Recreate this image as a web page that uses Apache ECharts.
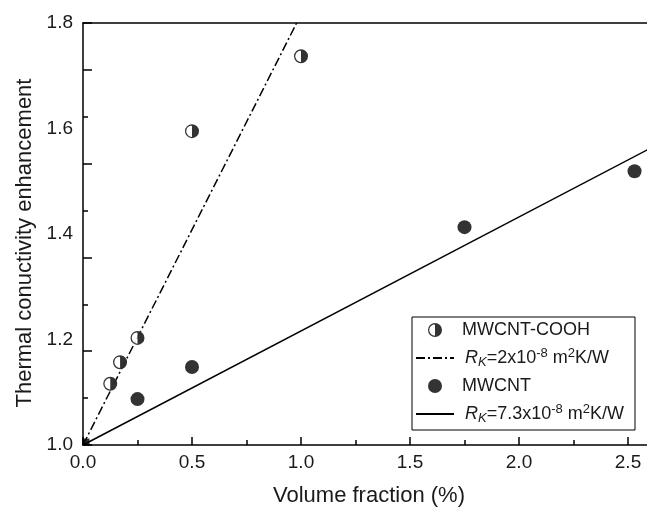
<!DOCTYPE html>
<html>
<head>
<meta charset="utf-8">
<script src="https://cdn.jsdelivr.net/npm/echarts@6/dist/echarts.min.js"></script>
<style>
  html, body { margin: 0; background: #fff; }
  #chart { width: 647px; height: 511px; }
</style>
</head>
<body>
<div id="chart"></div>
<script>
// measured points (volume fraction %, enhancement)
const volFracCooh = [0.125, 0.17, 0.25, 0.5, 1.0];
const enhCooh = [1.116, 1.157, 1.203, 1.595, 1.737];
const volFracCnt = [0.25, 0.5, 1.75, 2.53];
const enhCnt = [1.087, 1.148, 1.413, 1.519];
const originX = [0];
const originY = [1.0];

// model lines, end points
const fitCoohX = [0, 0.98];
const fitCoohY = [1.0, 1.8];
const fitCntX = [0, 2.6];
const fitCntY = [1.0, 1.562];

const legendNames = ["MWCNT-COOH", "Rk2", "MWCNT", "Rk73"];
const legendTexts = {
  "MWCNT-COOH": "MWCNT-COOH",
  Rk2: "{it|R}{sub|K}=2x10{sup|-8} m{sup|2}K/W",
  MWCNT: "MWCNT",
  Rk73: "{it|R}{sub|K}=7.3x10{sup|-8} m{sup|2}K/W"
};

const font = "'Liberation Sans', Arial, sans-serif";
const ink = "#1a1a1a";
const halfDot =
  "path://M0,-10A10,10 0 0,1 0,10Z M0,-10A10,10 0 0,0 0,10L0,8.2A8.2,8.2 0 0,1 0,-8.2Z";

const pairs = (xs, ys) => xs.map((x, i) => [x, ys[i]]);

// the figure is cropped on the right, so the plot box runs past the canvas
const gridRect = { left: 83, right: -90, top: 23, bottom: 66, outerBoundsMode: "none", containLabel: false };
const axisLineStyle = { color: "#000", width: 1.5 };
const hiddenX = gi => ({
  type: "value", gridIndex: gi, min: 0, max: 3, show: false
});
const tickAxis = (gi, interval, len) => ({
  type: "value",
  gridIndex: gi,
  min: 0,
  max: 9,
  interval: interval,
  axisLine: { show: false },
  axisLabel: { show: false },
  splitLine: { show: false },
  axisTick: { show: true, inside: true, length: len, lineStyle: axisLineStyle }
});

const chart = echarts.init(document.getElementById("chart"));

const option = {
  animation: false,
  backgroundColor: "#fff",
  textStyle: { fontFamily: font },
  grid: [Object.assign({}, gridRect), Object.assign({}, gridRect), Object.assign({}, gridRect)],
  xAxis: [
    {
      type: "value",
      min: 0,
      max: 3,
      interval: 0.5,
      position: "bottom",
      axisLine: { lineStyle: axisLineStyle },
      axisTick: { inside: true, length: 8, lineStyle: axisLineStyle },
      minorTick: { show: true, splitNumber: 2, length: 5, lineStyle: axisLineStyle },
      splitLine: { show: false },
      axisLabel: {
        color: ink,
        fontSize: 19,
        fontFamily: font,
        margin: 8,
        formatter: v => v.toFixed(1)
      },
      name: "Volume fraction (%)",
      nameLocation: "middle",
      nameGap: 40,
      nameTextStyle: { color: ink, fontSize: 22, fontFamily: font, padding: [0, 82, 0, 0] }
    },
    {
      type: "value",
      min: 0,
      max: 3,
      position: "top",
      axisLine: { lineStyle: axisLineStyle },
      axisTick: { show: false },
      axisLabel: { show: false },
      splitLine: { show: false }
    },
    hiddenX(1),
    hiddenX(2)
  ],
  yAxis: [
    {
      type: "value",
      min: 1.0,
      max: 1.8,
      interval: 0.2,
      axisLine: { show: true, lineStyle: axisLineStyle },
      axisTick: { show: false },
      splitLine: { show: false },
      axisLabel: {
        color: ink,
        fontSize: 19,
        fontFamily: font,
        margin: 10,
        formatter: v => v.toFixed(1)
      },
      name: "Thermal conuctivity enhancement",
      nameLocation: "middle",
      nameGap: 44,
      nameTextStyle: { color: ink, fontSize: 22, fontFamily: font, padding: [0, 18, 0, 0] }
    },
    tickAxis(1, 1, 5),
    tickAxis(2, 2, 9)
  ],
  legend: {
    orient: "vertical",
    left: 412,
    top: 317,
    itemWidth: 38,
    itemHeight: 14,
    itemGap: 6,
    padding: [2, 11, 5, 3],
    borderColor: "#000",
    borderWidth: 1,
    backgroundColor: "#fff",
    data: legendNames,
    formatter: name => legendTexts[name],
    textStyle: {
      color: ink,
      fontSize: 18,
      fontFamily: font,
      lineHeight: 22,
      padding: [0, 0, 0, 3],
      rich: {
        it: { fontStyle: "italic", fontSize: 18, fontFamily: font, color: ink, lineHeight: 22, padding: [0, 0, 0, 3] },
        sub: { fontStyle: "italic", fontSize: 13, fontFamily: font, color: ink, lineHeight: 13, verticalAlign: "bottom" },
        sup: { fontSize: 13, fontFamily: font, color: ink, lineHeight: 13, verticalAlign: "top" }
      }
    }
  },
  series: [
    {
      name: "Rk2",
      type: "line",
      data: pairs(fitCoohX, fitCoohY),
      symbol: "none",
      clip: true,
      itemStyle: { color: "#000", opacity: 0 },
      lineStyle: { color: "#000", width: 1.5, type: [9, 3, 2, 3] },
      z: 2
    },
    {
      name: "Rk73",
      type: "line",
      data: pairs(fitCntX, fitCntY),
      symbol: "none",
      clip: true,
      itemStyle: { color: "#000", opacity: 0 },
      lineStyle: { color: "#000", width: 1.5 },
      z: 2
    },
    {
      name: "cooh-bg",
      type: "scatter",
      data: pairs(volFracCooh, enhCooh),
      symbol: "circle",
      symbolSize: 14,
      itemStyle: { color: "#fff" },
      silent: true,
      z: 3
    },
    {
      name: "MWCNT-COOH",
      type: "scatter",
      data: pairs(volFracCooh, enhCooh),
      symbol: halfDot,
      symbolSize: 14,
      itemStyle: { color: "#000" },
      z: 4
    },
    {
      name: "MWCNT",
      type: "scatter",
      data: pairs(volFracCnt, enhCnt),
      symbol: "circle",
      symbolSize: 14,
      itemStyle: { color: "#000" },
      z: 4
    },
    {
      name: "origin",
      type: "scatter",
      data: pairs(originX, originY),
      symbol: "rect",
      symbolSize: 7,
      symbolOffset: [3, -3],
      itemStyle: { color: "#000" },
      z: 4
    }
  ]
};

chart.setOption(option);
</script>
</body>
</html>
